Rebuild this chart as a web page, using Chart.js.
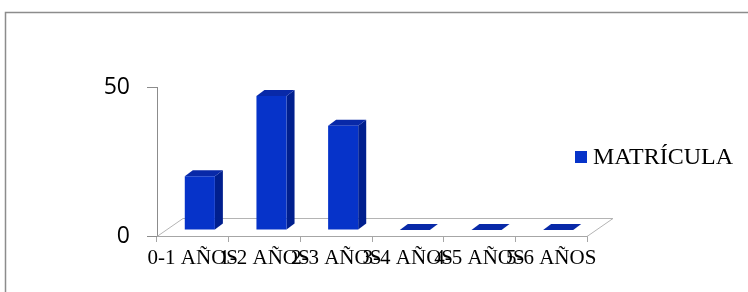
<!DOCTYPE html>
<html>
<head>
<meta charset="utf-8">
<script src="https://cdn.jsdelivr.net/npm/chart.js@4.4.1/dist/chart.umd.min.js"></script>
<style>
  html, body { margin: 0; padding: 0; background: #fff; }
  #wrap { width: 748px; height: 292px; }
</style>
</head>
<body>
<div id="wrap"><canvas id="chart"></canvas></div>
<script>
// data
const categories = ['0-1 AÑOS', '1-2 AÑOS', '2-3 AÑOS', '3-4 AÑOS', '4-5 AÑOS', '5-6 AÑOS'];
const matricula = [18, 45, 35, 0, 0, 0];
const seriesName = 'MATRÍCULA';
const yTickValues = [0, 50];

// fake 3D look
const frontColor = '#0633c9';
const sideColor = '#001f8e';
const topColor = '#0829a8';
const shiftX = 7, shiftY = 6;   // bars stand a bit into the floor
const depthX = 8, depthY = 6;   // bar depth
const floorX = 26, floorY = 18; // floor depth

const frame = {
  id: 'frame',
  beforeDraw(chart) {
    const ctx = chart.ctx;
    ctx.save();
    ctx.strokeStyle = '#8c8c8c';
    ctx.lineWidth = 1.5;
    ctx.strokeRect(5.5, 12.5, 900, 400);
    ctx.restore();
  }
};

const bar3d = {
  id: 'bar3d',
  beforeDatasetsDraw(chart) {
    const ctx = chart.ctx;
    const a = chart.chartArea;
    ctx.save();
    ctx.strokeStyle = '#b4b4b4';
    ctx.lineWidth = 1;
    ctx.beginPath();
    ctx.moveTo(a.left, a.bottom + 0.5);
    ctx.lineTo(a.left + floorX, a.bottom - floorY + 0.5);
    ctx.lineTo(a.right + floorX, a.bottom - floorY + 0.5);
    ctx.lineTo(a.right, a.bottom + 0.5);
    ctx.stroke();
    ctx.restore();

    ctx.save();
    ctx.translate(shiftX, -shiftY);
    chart.getDatasetMeta(0).data.forEach(bar => {
      const p = bar.getProps(['x', 'y', 'base', 'width'], true);
      const l = p.x - p.width / 2, r = p.x + p.width / 2;
      ctx.fillStyle = sideColor;
      ctx.beginPath();
      ctx.moveTo(r, p.y);
      ctx.lineTo(r + depthX, p.y - depthY);
      ctx.lineTo(r + depthX, p.base - depthY);
      ctx.lineTo(r, p.base);
      ctx.closePath();
      ctx.fill();
      ctx.fillStyle = topColor;
      ctx.beginPath();
      ctx.moveTo(l, p.y);
      ctx.lineTo(l + depthX, p.y - depthY);
      ctx.lineTo(r + depthX, p.y - depthY);
      ctx.lineTo(r, p.y);
      ctx.closePath();
      ctx.fill();
    });
  },
  afterDatasetsDraw(chart) {
    chart.ctx.restore();
  },
  afterDraw(chart) {
    const ctx = chart.ctx;
    const ds = chart.data.datasets[0];
    ctx.save();
    ctx.fillStyle = ds.backgroundColor;
    ctx.fillRect(575, 151, 12, 12);
    ctx.fillStyle = '#000';
    ctx.font = '24px "Liberation Serif"';
    ctx.textBaseline = 'alphabetic';
    ctx.fillText(ds.label, 593, 164);
    ctx.restore();
  }
};

const ctx = document.getElementById('chart').getContext('2d');
new Chart(ctx, {
  type: 'bar',
  data: {
    labels: categories,
    datasets: [{
      label: seriesName,
      data: matricula,
      backgroundColor: frontColor,
      borderWidth: 0,
      barPercentage: 0.42,
      categoryPercentage: 1.0,
      clip: false
    }]
  },
  options: {
    responsive: true,
    maintainAspectRatio: false,
    animation: false,
    layout: { padding: { top: 87, right: 161, left: 0, bottom: 0 } },
    plugins: {
      legend: { display: false },
      tooltip: { enabled: false }
    },
    scales: {
      x: {
        afterFit: s => { s.height = 56; },
        grid: { drawOnChartArea: false, tickLength: 6, color: '#a6a6a6' },
        border: { color: '#a6a6a6' },
        ticks: {
          autoSkip: false, maxRotation: 0, minRotation: 0, padding: 4,
          color: '#000', font: { family: 'Liberation Serif', size: 21 }
        }
      },
      y: {
        min: 0,
        max: 50,
        afterFit: s => { s.width = 157; },
        afterBuildTicks: s => { s.ticks = yTickValues.map(v => ({ value: v })); },
        grid: { drawOnChartArea: false, tickLength: 10, color: '#8c8c8c' },
        border: { color: '#8c8c8c' },
        ticks: {
          padding: 17,
          color: '#000', font: { family: 'Open Sans', size: 23 }
        }
      }
    }
  },
  plugins: [frame, bar3d]
});
</script>
</body>
</html>
